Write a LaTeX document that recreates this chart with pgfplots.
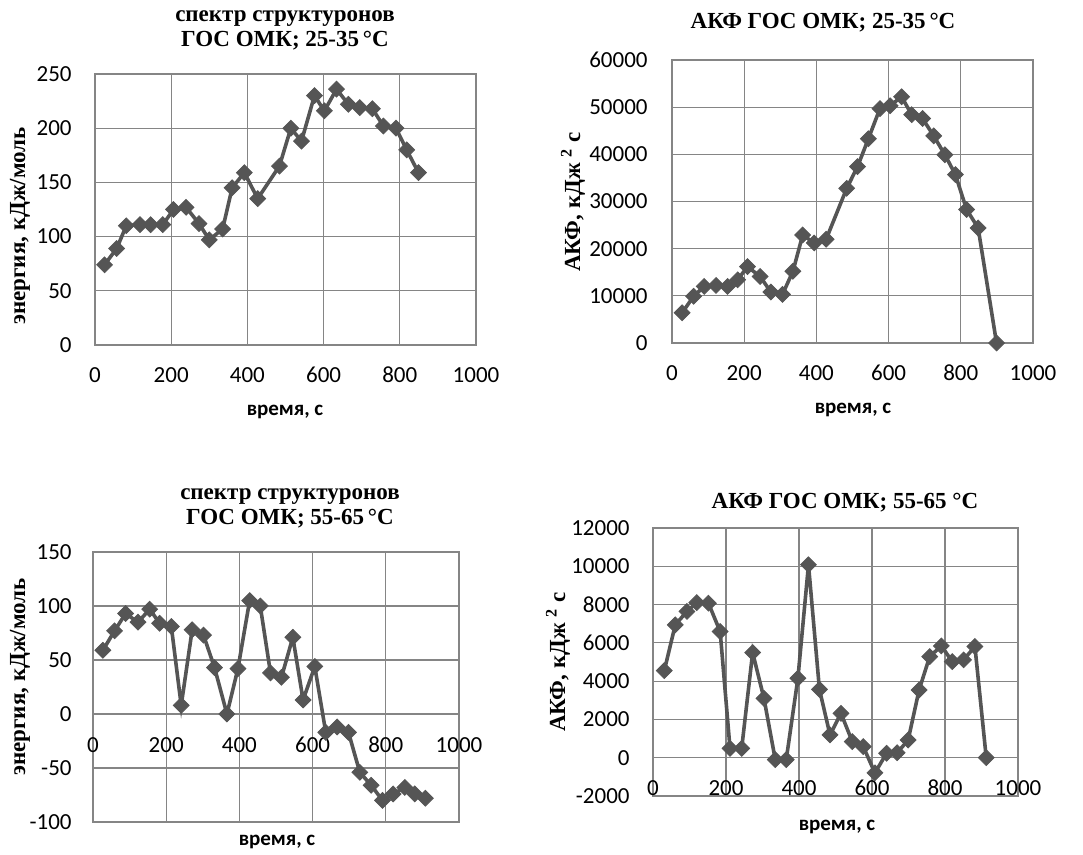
\documentclass[border=0pt]{standalone}
\usepackage{fontspec}
\setmainfont{Liberation Serif}
\newfontfamily\calibri{Carlito}
\usepackage{pgfplots}
\pgfplotsset{compat=1.18}
\definecolor{ln}{HTML}{555555}
\definecolor{gr}{HTML}{858585}
\pgfplotsset{
  panel/.style={
    scale only axis, anchor=south west, scaled y ticks=false, scaled x ticks=false,
    xmin=0, xmax=1000, xtick={0,200,...,1000}, xticklabels={0,200,400,600,800,1000},
    grid=major, major grid style={gr, line width=0.6pt},
    axis line style={gr, line width=0.6pt},
    major tick length=0pt,
    tick label style={font=\calibri\fontsize{11.5}{13}\selectfont, inner sep=0pt, text=black},
    yticklabel style={anchor=east},
    xticklabel style={anchor=center},
    clip=false,
  },
  ser/.style={ln, line width=1.8pt, mark=square*, mark size=2.8pt,
    mark options={rotate=45, fill=ln, draw=ln, line width=0.4pt, solid}},
}
\begin{document}
\begin{tikzpicture}[x=1pt,y=1pt]
\useasboundingbox (0,0) rectangle (541.5,427.5);
% Panel 1
\begin{axis}[panel, at={(47.5pt,255pt)}, width=190.5pt, height=135.5pt,
  ymin=0, ymax=250, ytick={0,50,...,250}, yticklabels={0,50,100,150,200,250},
  yticklabel style={xshift=-11.5pt}, xticklabel style={yshift=-15pt}]
\addplot[ser] coordinates {
(25,74) (57,89) (82,110) (118,111) (146,111) (178,111) (206,125) (239,127)
(273,112) (300,97) (335,107) (360,145) (392,159) (427,135) (484,165)
(514,200) (542,188) (576,230) (602,216) (634,236) (665,222) (695,219)
(728,218) (757,202) (790,200) (818,180) (849,159)};
\end{axis}
% Panel 2
\begin{axis}[panel, at={(336pt,256pt)}, width=180.5pt, height=141.5pt,
  ymin=0, ymax=60000, ytick={0,10000,...,60000}, yticklabels={0,10000,20000,30000,40000,50000,60000},
  yticklabel style={xshift=-12pt}, xticklabel style={yshift=-15pt}]
\addplot[ser] coordinates {
(28,6400) (60,9900) (89,12000) (122,12200) (154,12000) (182,13400) (209,16200)
(244,14100) (274,10800) (306,10300) (335,15200) (362,22900) (394,21200)
(427,22000) (484,32800) (514,37400) (544,43300) (576,49700) (604,50300)
(636,52200) (664,48400) (694,47600) (725,43900) (756,39900) (785,35700)
(816,28300) (848,24400) (899,0)};
\end{axis}
% Panel 3
\begin{axis}[panel, at={(46.5pt,16.5pt)}, width=183pt, height=135pt,
  ymin=-100, ymax=150, ytick={-100,-50,...,150}, yticklabels={-100,-50,0,50,100,150},
  yticklabel style={xshift=-10.5pt}, xticklabel style={yshift=38.5pt}]
\addplot[ser] coordinates {
(27,59) (59,77) (89,93) (123,85) (155,97) (182,84) (214,81) (241,8)
(271,78) (302,73) (332,43) (366,0) (396,42) (428,105) (457,100) (485,38)
(515,34) (546,71) (574,13) (606,44) (636,-17) (667,-12) (698,-17)
(729,-54) (760,-66) (791,-80) (820,-74) (852,-68) (879,-74) (908,-78)};
\end{axis}
% Panel 4
\begin{axis}[panel, at={(326.5pt,29.5pt)}, width=182.5pt, height=134pt,
  ymin=-2000, ymax=12000, ytick={-2000,0,...,12000}, yticklabels={-2000,0,2000,4000,6000,8000,10000,12000},
  yticklabel style={xshift=-11.5pt}, xticklabel style={yshift=4pt}]
\addplot[ser] coordinates {
(31,4550) (61,6940) (93,7640) (120,8100) (152,8070) (184,6590) (211,490)
(243,490) (273,5490) (304,3100) (335,-100) (365,-100) (397,4150) (426,10080)
(456,3570) (485,1190) (515,2320) (546,840) (576,580) (608,-790) (640,230)
(669,260) (699,920) (729,3540) (758,5280) (790,5840) (820,5020) (851,5110)
(882,5810) (913,0)};
\end{axis}
% Titles and labels
\tikzset{ttl/.style={font=\bfseries\fontsize{11.5}{12.5}\selectfont, align=center},
  yl/.style={font=\bfseries\fontsize{11.5}{12.5}\selectfont, rotate=90},
  xl/.style={font=\calibri\bfseries\fontsize{10.5}{12}\selectfont}}
\node[ttl] at (142.5,412.5) {спектр структуронов\\ГОС ОМК; 25-35\,°C};
\node[yl] at (10,314.5) {энергия, кДж/моль};
\node[xl] at (142.5,221.5) {время, с};
\node[ttl] at (411.5,416) {АКФ ГОС ОМК; 25-35\,°C};
\node[yl] at (286.5,326.5) {АКФ, кДж \textsuperscript{2} с};
\node[xl] at (426.5,222.5) {время, с};
\node[ttl] at (145,173.5) {спектр структуронов\\ГОС ОМК; 55-65\,°C};
\node[yl] at (10,89) {энергия, кДж/моль};
\node[xl] at (138.5,6.5) {время, с};
\node[ttl] at (422.5,176) {АКФ ГОС ОМК; 55-65 °C};
\node[yl] at (279,96.5) {АКФ, кДж \textsuperscript{2} с};
\node[xl] at (418.5,14) {время, с};
\end{tikzpicture}
\end{document}
